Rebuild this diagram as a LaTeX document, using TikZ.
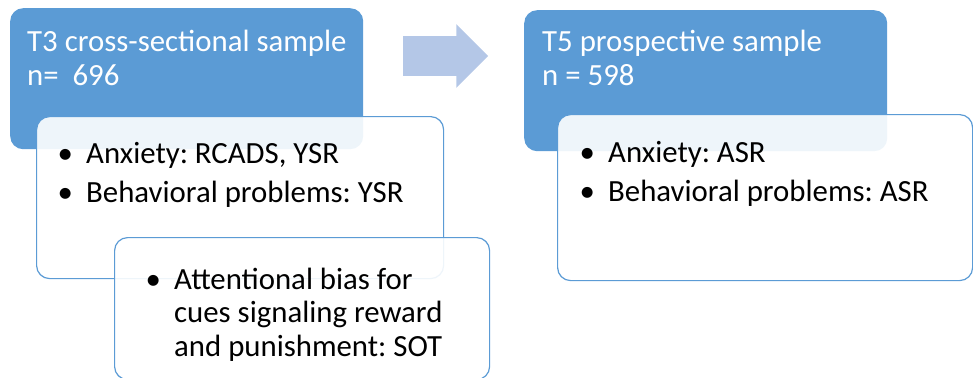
\documentclass[tikz,border=0pt]{standalone}
\usepackage{fontspec}
\setmainfont{Carlito}
\usetikzlibrary{shapes.arrows}

\definecolor{boxblue}{HTML}{5B9BD5}
\definecolor{arrowblue}{HTML}{B4C7E7}
\newcommand{\bul}{\llap{\makebox[42pt][c]{\textbullet}}}
\frenchspacing

\begin{document}
\begin{tikzpicture}[x=1pt,y=-1pt,
    headbox/.style={fill=boxblue,rounded corners=13pt,anchor=north west,inner sep=0},
    listbox/.style={draw=boxblue,line width=1.2pt,fill=white,fill opacity=0.9,rounded corners=13pt,anchor=north west,inner sep=0},
    headtext/.style={text=white,anchor=base west,inner sep=0,font=\fontsize{30.8}{33.5}\selectfont},
    listtext/.style={anchor=base west,inner sep=0,font=\fontsize{30.8}{33.5}\selectfont}]
    \useasboundingbox (0,0) rectangle (973,377);

    % left column
    \node [headbox,minimum width=353,minimum height=141](t3box)at(10,8){};
    \node [listbox,minimum width=407,minimum height=162](t3list)at(36,116){};
    \node [listbox,minimum width=375,minimum height=142](sotlist)at(114,237){};

    % arrow
    \node [single arrow,fill=arrowblue,inner xsep=0,inner ysep=19.75,minimum height=85,
        single arrow head extend=12,single arrow head indent=0,anchor=tail](move)at(403,56){};

    % right column
    \node [headbox,minimum width=363,minimum height=141](t5box)at(524,10){};
    \node [listbox,minimum width=415,minimum height=166](t5list)at(557,114){};

    % texts
    \node [headtext](t3head)at(27,52){\begin{tabular}[t]{@{}l@{}}T3 cross-sectional sample\\n=\ \ 696\end{tabular}};
    \node [listtext](t3items)at(86,163){\begin{tabular}[t]{@{}l@{}}\bul Anxiety: RCADS, YSR\\[6pt]\bul Behavioral problems: YSR\end{tabular}};
    \node [listtext](sotitems)at(174,289){\begin{tabular}[t]{@{}l@{}}\bul Attentional bias for\\cues signaling reward\\and punishment: SOT\end{tabular}};
    \node [headtext](t5head)at(542,52){\begin{tabular}[t]{@{}l@{}}T5 prospective sample\\n = 598\end{tabular}};
    \node [listtext](t5items)at(608,162){\begin{tabular}[t]{@{}l@{}}\bul Anxiety: ASR\\[6pt]\bul Behavioral problems: ASR\end{tabular}};
\end{tikzpicture}
\end{document}
